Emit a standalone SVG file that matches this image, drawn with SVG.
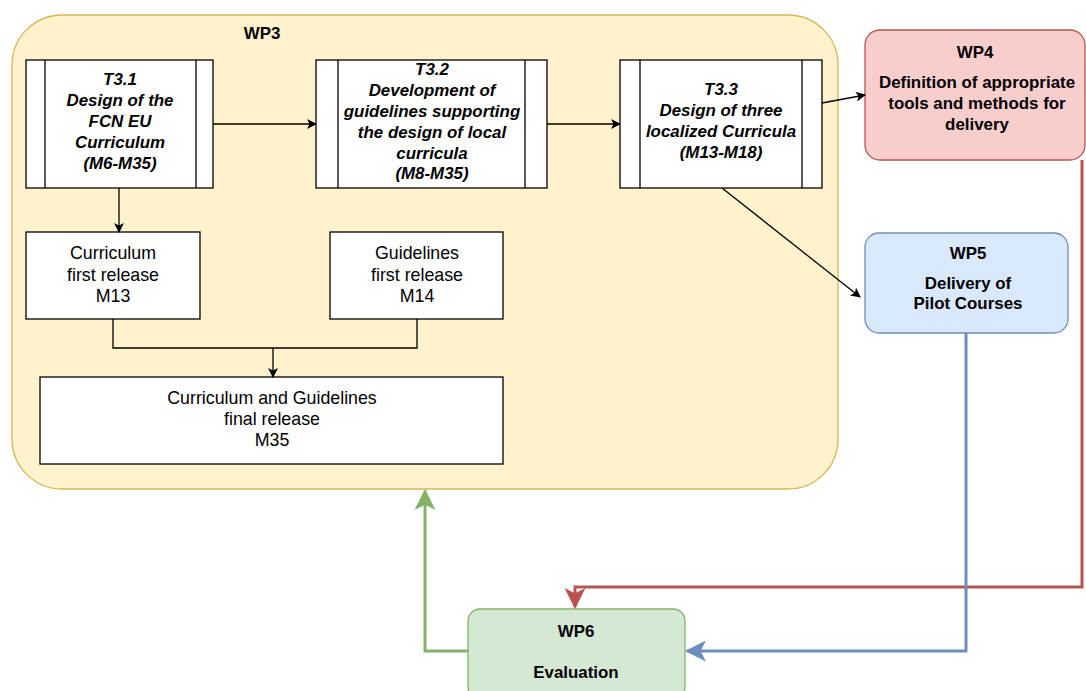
<svg xmlns="http://www.w3.org/2000/svg" width="1086" height="691" viewBox="0 0 1086 691">
  <defs>
    <style>
      .box { fill: #ffffff; stroke: #000000; stroke-width: 1.3; }
      .t { font-family: "Liberation Sans", Arial, sans-serif; font-size: 17.8px; fill: #000000; text-anchor: middle; }
      .bi { font-weight: bold; font-style: italic; font-size: 16.9px; }
      .b { font-weight: bold; font-size: 16.9px; }
      .edge { fill: none; stroke: #000000; stroke-width: 1.3; }
      .thick { fill: none; stroke-width: 3; }
    </style>
    <marker id="arrBlack" viewBox="0 0 10 10" refX="9" refY="5" markerWidth="10" markerHeight="10" markerUnits="userSpaceOnUse" orient="auto">
      <path d="M0,0 L10,5 L0,10 L2.5,5 Z" fill="#000000"/>
    </marker>
    <marker id="arrRed" viewBox="0 0 10 10" refX="9" refY="5" markerWidth="7" markerHeight="7" orient="auto">
      <path d="M0,0 L10,5 L0,10 L2.5,5 Z" fill="#b85450"/>
    </marker>
    <marker id="arrBlue" viewBox="0 0 10 10" refX="9" refY="5" markerWidth="7" markerHeight="7" orient="auto">
      <path d="M0,0 L10,5 L0,10 L2.5,5 Z" fill="#6c8ebf"/>
    </marker>
    <marker id="arrGreen" viewBox="0 0 10 10" refX="9" refY="5" markerWidth="7" markerHeight="7" orient="auto">
      <path d="M0,0 L10,5 L0,10 L2.5,5 Z" fill="#82b366"/>
    </marker>
  </defs>

  <rect width="1086" height="691" fill="#ffffff"/>

  <!-- Work package 3 container -->
  <g id="wp3">
    <rect x="12" y="15" width="826" height="474" rx="50" ry="50" fill="#fff2cc" stroke="#d6b656" stroke-width="1.3"/>
    <text class="t b" x="262" y="39">WP3</text>
  </g>

  <!-- Task T3.1 -->
  <g id="t31">
    <rect class="box" x="26" y="60" width="187" height="128"/>
    <line class="edge" x1="45" y1="60" x2="45" y2="188"/>
    <line class="edge" x1="196" y1="60" x2="196" y2="188"/>
    <text class="t bi" x="120" y="85">T3.1</text>
    <text class="t bi" x="120" y="106">Design of the</text>
    <text class="t bi" x="120" y="127">FCN EU</text>
    <text class="t bi" x="120" y="148">Curriculum</text>
    <text class="t bi" x="120" y="169">(M6-M35)</text>
  </g>

  <!-- Task T3.2 -->
  <g id="t32">
    <rect class="box" x="316" y="60" width="231" height="128"/>
    <line class="edge" x1="338" y1="60" x2="338" y2="188"/>
    <line class="edge" x1="525" y1="60" x2="525" y2="188"/>
    <text class="t bi" x="432" y="75">T3.2</text>
    <text class="t bi" x="432" y="96">Development of</text>
    <text class="t bi" x="432" y="117">guidelines supporting</text>
    <text class="t bi" x="432" y="138">the design of local</text>
    <text class="t bi" x="432" y="159">curricula</text>
    <text class="t bi" x="432" y="179">(M8-M35)</text>
  </g>

  <!-- Task T3.3 -->
  <g id="t33">
    <rect class="box" x="620" y="60" width="202" height="128"/>
    <line class="edge" x1="640" y1="60" x2="640" y2="188"/>
    <line class="edge" x1="802" y1="60" x2="802" y2="188"/>
    <text class="t bi" x="721" y="95">T3.3</text>
    <text class="t bi" x="721" y="116">Design of three</text>
    <text class="t bi" x="721" y="137">localized Curricula</text>
    <text class="t bi" x="721" y="158">(M13-M18)</text>
  </g>

  <!-- Deliverables -->
  <g id="curriculum-first">
    <rect class="box" x="26" y="232" width="174" height="87"/>
    <text class="t" x="113" y="259">Curriculum</text>
    <text class="t" x="113" y="281">first release</text>
    <text class="t" x="113" y="302">M13</text>
  </g>

  <g id="guidelines-first">
    <rect class="box" x="330" y="232" width="173" height="87"/>
    <text class="t" x="417" y="259">Guidelines</text>
    <text class="t" x="417" y="281">first release</text>
    <text class="t" x="417" y="302">M14</text>
  </g>

  <g id="final-release">
    <rect class="box" x="40" y="377" width="463" height="87"/>
    <text class="t" x="272" y="404">Curriculum and Guidelines</text>
    <text class="t" x="272" y="425">final release</text>
    <text class="t" x="272" y="446">M35</text>
  </g>

  <!-- Other work packages -->
  <g id="wp4">
    <rect x="865" y="30" width="220" height="130" rx="15" ry="15" fill="#f8cecc" stroke="#b85450" stroke-width="1.3"/>
    <text class="t b" x="975" y="58">WP4</text>
    <text class="t b" x="977" y="88">Definition of appropriate</text>
    <text class="t b" x="977" y="109">tools and methods for</text>
    <text class="t b" x="977" y="130">delivery</text>
  </g>

  <g id="wp5">
    <rect x="865" y="233" width="203" height="100" rx="14" ry="14" fill="#dae8fc" stroke="#6c8ebf" stroke-width="1.3"/>
    <text class="t b" x="968" y="259">WP5</text>
    <text class="t b" x="968" y="289">Delivery of</text>
    <text class="t b" x="968" y="309">Pilot Courses</text>
  </g>

  <g id="wp6">
    <rect x="468" y="609" width="217" height="90" rx="12" ry="12" fill="#d5e8d4" stroke="#82b366" stroke-width="1.3"/>
    <text class="t b" x="576" y="637">WP6</text>
    <text class="t b" x="576" y="678">Evaluation</text>
  </g>

  <!-- Connectors -->
  <g id="connectors">
    <line class="edge" x1="213" y1="124" x2="316" y2="124" marker-end="url(#arrBlack)"/>
    <line class="edge" x1="547" y1="124" x2="620" y2="124" marker-end="url(#arrBlack)"/>
    <line class="edge" x1="822" y1="103" x2="865" y2="95" marker-end="url(#arrBlack)"/>
    <line class="edge" x1="722" y1="188" x2="860" y2="297" marker-end="url(#arrBlack)"/>
    <line class="edge" x1="119" y1="188" x2="119" y2="232" marker-end="url(#arrBlack)"/>
    <polyline class="edge" points="113,319 113,348 417,348 417,319"/>
    <line class="edge" x1="273" y1="348" x2="273" y2="377" marker-end="url(#arrBlack)"/>

    <polyline class="thick" stroke="#b85450" points="1082,160 1082,587 575,587 575,607" marker-end="url(#arrRed)"/>
    <polyline class="thick" stroke="#6c8ebf" points="966,333 966,651 687,651" marker-end="url(#arrBlue)"/>
    <polyline class="thick" stroke="#82b366" points="468,651 425,651 425,491" marker-end="url(#arrGreen)"/>
  </g>
</svg>
